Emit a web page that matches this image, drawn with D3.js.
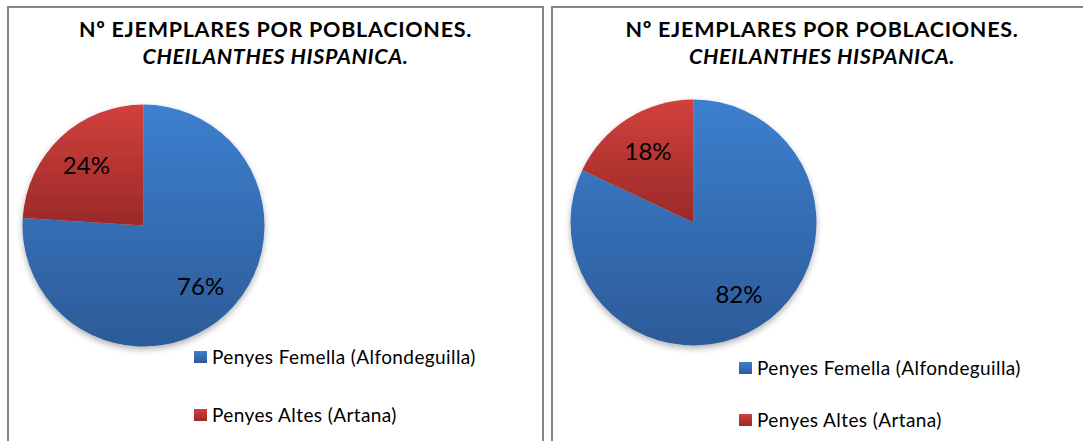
<!DOCTYPE html>
<html><head><meta charset="utf-8">
<script src="https://cdn.jsdelivr.net/npm/d3@7"></script>
<style>body{margin:0;background:#fff}svg{display:block}</style>
</head><body>
<svg id="c" width="1083" height="441"></svg>
<script>
const categories = ["Penyes Femella (Alfondeguilla)", "Penyes Altes (Artana)"];
const valuesLeft = [76, 24];
const valuesRight = [82, 18];
const titleLine1 = "Nº EJEMPLARES POR POBLACIONES.";
const titleLine2 = "CHEILANTHES HISPANICA.";

const colorsTop = ["#3d7fcf", "#d2403d"];
const colorsBot = ["#2c5b98", "#9a2a28"];
const FONT = "Lato, 'Liberation Sans', sans-serif";

const svg = d3.select("#c");
const defs = svg.append("defs");
categories.forEach((c, i) => {
  const g = defs.append("linearGradient").attr("id", "g" + i)
    .attr("x1", 0).attr("y1", 0).attr("x2", 0).attr("y2", 1);
  g.append("stop").attr("offset", "0%").attr("stop-color", colorsTop[i]);
  g.append("stop").attr("offset", "100%").attr("stop-color", colorsBot[i]);
});
const f = defs.append("filter").attr("id", "sh").attr("x", "-20%").attr("y", "-20%").attr("width", "140%").attr("height", "140%");
f.append("feDropShadow").attr("dx", 0).attr("dy", 3).attr("stdDeviation", 3).attr("flood-color", "#000").attr("flood-opacity", 0.3);

const panels = [
  {x: 8, w: 535, values: valuesLeft, cx: 143.5, cy: 225.5, r: 121, legX: 194, legY: [351, 409]},
  {x: 552, w: 540, values: valuesRight, cx: 693.5, cy: 222.5, r: 123, legX: 739, legY: [362, 414]}
];

const pie = d3.pie().sort(null).value(d => d);

panels.forEach(p => {
  const g = svg.append("g");
  g.append("rect").attr("x", p.x).attr("y", 7).attr("width", p.w).attr("height", 460)
    .attr("fill", "#fff").attr("stroke", "#868686").attr("stroke-width", 2);
  const mid = p.x + p.w / 2;
  g.append("text").attr("x", mid).attr("y", 37).attr("text-anchor", "middle")
    .attr("font-family", FONT).attr("font-weight", "bold").attr("font-size", 21.5)
    .attr("letter-spacing", 0.73).text(titleLine1);
  g.append("text").attr("x", mid).attr("y", 64).attr("text-anchor", "middle")
    .attr("font-family", FONT).attr("font-weight", "bold").attr("font-style", "italic").attr("font-size", 21.5)
    .attr("letter-spacing", 0.6).text(titleLine2);

  const arc = d3.arc().innerRadius(0).outerRadius(p.r);
  const lab = d3.arc().innerRadius(p.r * 0.69).outerRadius(p.r * 0.69);
  const pg = g.append("g").attr("transform", `translate(${p.cx},${p.cy})`);
  const arcs = pie(p.values);
  pg.append("g").attr("filter", "url(#sh)").selectAll("path").data(arcs).join("path")
    .attr("d", arc).attr("fill", (d, i) => `url(#g${i})`);
  pg.selectAll("text").data(arcs).join("text")
    .attr("transform", d => `translate(${lab.centroid(d)})`)
    .attr("text-anchor", "middle").attr("dy", "0.38em")
    .attr("font-family", FONT).attr("font-size", 24)
    .text(d => d3.format(".0%")(d.data / d3.sum(p.values)));

  categories.forEach((c, i) => {
    g.append("rect").attr("x", p.legX).attr("y", p.legY[i]).attr("width", 13).attr("height", 12)
      .attr("fill", `url(#g${i})`);
    g.append("text").attr("x", p.legX + 18).attr("y", p.legY[i] + 12.5)
      .attr("font-family", FONT).attr("font-size", 19).attr("letter-spacing", 0.4).text(c);
  });
});
</script>
</body></html>
